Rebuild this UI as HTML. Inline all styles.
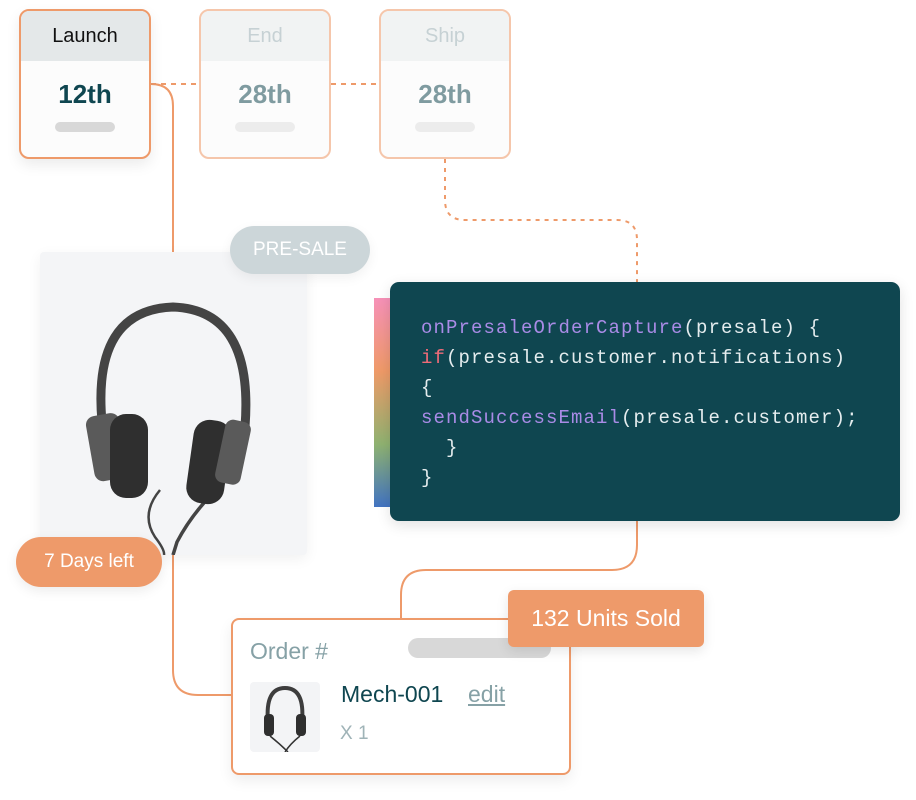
<!DOCTYPE html>
<html><head><meta charset="utf-8"><style>
*{margin:0;padding:0;box-sizing:border-box}
body{width:916px;height:800px;background:#fff;position:relative;overflow:hidden;font-family:"Liberation Sans",sans-serif}
.abs{position:absolute}
.card{position:absolute;top:9px;width:132px;height:150px;border:2px solid #f5c6ab;border-radius:10px;background:#fcfcfc;overflow:hidden}
.card .h{height:50px;background:#f1f3f3;text-align:center;line-height:50px;font-size:20px;color:#c6d1d4}
.card .n{text-align:center;font-size:26px;font-weight:bold;color:#7f9ba0;margin-top:18px}
.card .b{width:60px;height:10px;border-radius:5px;background:#ececec;margin:12px auto 0}
.code{font-family:"Liberation Mono",monospace;font-size:19px;letter-spacing:1.1px;line-height:30px;color:#e4ecee;white-space:pre}
.p{color:#a98be6}.r{color:#ef6b78}
</style></head><body>
<svg class="abs" style="left:0;top:0" width="916" height="800">
<g fill="none" stroke="#ee9a6a" stroke-width="2">
<path d="M151 84 H199 M331 84 H379" stroke-dasharray="5 5"/>
<path d="M445 159 V200 Q445 220 465 220 H617 Q637 220 637 240 V282" stroke-dasharray="4 5"/>
<path d="M151 84 Q173 84 173 106 V252"/>
<path d="M173 555 V670 Q173 695 198 695 H232"/>
<path d="M637 521 V545 Q637 570 612 570 H426 Q401 570 401 595 V618"/>
</g></svg>

<div class="card" style="left:19px;border-color:#ee9a6a;box-shadow:0 6px 14px rgba(0,0,0,.08)"><div class="h" style="background:#e4e8e9;color:#111">Launch</div><div class="n" style="color:#0f4650">12th</div><div class="b" style="background:#d8d8d8"></div></div>
<div class="card" style="left:199px"><div class="h">End</div><div class="n">28th</div><div class="b"></div></div>
<div class="card" style="left:379px"><div class="h">Ship</div><div class="n">28th</div><div class="b"></div></div>

<div class="abs" style="left:40px;top:252px;width:267px;height:303px;background:#f4f5f7;border-radius:4px;box-shadow:0 4px 14px rgba(0,0,0,.06)"></div>
<svg class="abs" style="left:40px;top:252px" width="267" height="303">
<g fill="none" stroke="#444">
<path d="M62 170 Q52 58 133 55 Q214 58 205 175" stroke-width="9"/>
<path d="M120 238 Q100 262 115 285 Q125 298 124 303" stroke-width="2.5"/>
<path d="M172 242 Q150 265 137 290 L133 303" stroke-width="3.5"/>
</g>
<rect x="50" y="162" width="34" height="66" rx="9" fill="#5a5a5a" transform="rotate(-10 68 195)"/>
<rect x="70" y="162" width="38" height="84" rx="16" fill="#2f2f2f"/>
<rect x="150" y="168" width="38" height="84" rx="16" fill="#2f2f2f" transform="rotate(8 169 209)"/>
<rect x="180" y="168" width="26" height="64" rx="8" fill="#5a5a5a" transform="rotate(12 192 200)"/>
</svg>

<div class="abs" style="left:230px;top:226px;width:140px;height:48px;border-radius:24px;background:#ccd6d9;color:#fff;font-size:19px;text-align:center;line-height:48px;box-shadow:0 4px 12px rgba(0,0,0,.06)">PRE-SALE</div>

<div class="abs" style="left:374px;top:298px;width:16px;height:209px;background:linear-gradient(#f691b8,#ef9a68 35%,#8fb271 70%,#4274c2)"></div>
<div class="abs" style="left:390px;top:282px;width:510px;height:239px;background:#0f4650;border-radius:9px;box-shadow:0 4px 14px rgba(0,0,0,.12)"></div>
<div class="abs code" style="left:421px;top:313px"><span class="p">onPresaleOrderCapture</span>(presale) {
<span class="r">if</span>(presale.customer.notifications)
{
<span class="p">sendSuccessEmail</span>(presale.customer);
  }
}</div>

<div class="abs" style="left:16px;top:537px;width:146px;height:50px;border-radius:25px;background:#ee9a6a;color:#fff;font-size:19px;text-align:center;line-height:50px;box-shadow:0 4px 12px rgba(0,0,0,.08)">7 Days left</div>

<div class="abs" style="left:231px;top:618px;width:340px;height:157px;border:2px solid #ee9a6a;border-radius:8px;background:#fff;box-shadow:0 6px 14px rgba(0,0,0,.07)"></div>
<div class="abs" style="left:250px;top:638px;font-size:23px;color:#86a1a6">Order #</div>
<div class="abs" style="left:408px;top:638px;width:143px;height:20px;border-radius:10px;background:#d8d8d8"></div>
<div class="abs" style="left:250px;top:682px;width:70px;height:70px;background:#f3f4f6;border-radius:4px"></div>
<svg class="abs" style="left:250px;top:682px" width="70" height="70">
<path d="M18 40 Q15 6 35 6 Q55 6 52 40" fill="none" stroke="#3d3d3d" stroke-width="4"/>
<rect x="14" y="32" width="10" height="22" rx="4" fill="#2f2f2f"/><rect x="46" y="32" width="10" height="22" rx="4" fill="#2f2f2f"/>
<path d="M20 54 Q30 62 38 70 M50 54 Q40 62 35 70" stroke="#333" stroke-width="1.5" fill="none"/>
</svg>
<div class="abs" style="left:341px;top:681px;font-size:23px;color:#0f4650">Mech-001</div>
<div class="abs" style="left:468px;top:681px;font-size:23px;color:#86a1a6;text-decoration:underline">edit</div>
<div class="abs" style="left:340px;top:723px;font-size:19px;color:#9fb3b7">X 1</div>

<div class="abs" style="left:508px;top:590px;width:196px;height:57px;border-radius:6px;background:#ee9a6a;color:#fff;font-size:23px;text-align:center;line-height:57px;box-shadow:0 4px 12px rgba(0,0,0,.1)">132 Units Sold</div>
</body></html>
